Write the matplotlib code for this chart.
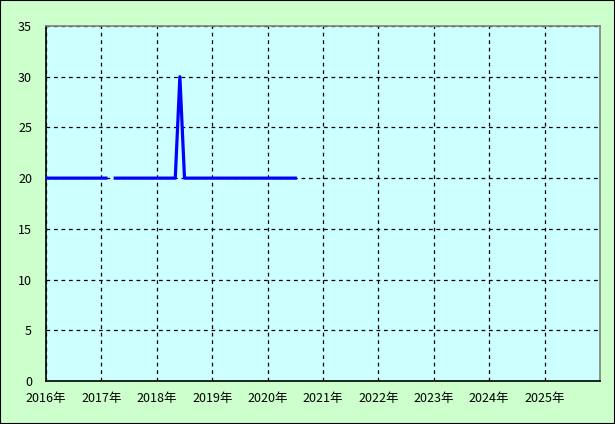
import matplotlib
matplotlib.use("Agg")
import matplotlib.pyplot as plt
import numpy as np

plt.rcParams['font.family'] = ['Noto Sans CJK JP', 'DejaVu Sans']

# Monthly series, Jan 2016 .. Jul 2020 (NaN = missing month)
start_year = 2016
values = [
    20, 20, 20, 20, 20, 20, 20, 20, 20, 20, 20, 20,          # 2016
    20, 20, np.nan, 20, 20, 20, 20, 20, 20, 20, 20, 20,      # 2017
    20, 20, 20, 20, 20, 30, 20, 20, 20, 20, 20, 20,          # 2018
    20, 20, 20, 20, 20, 20, 20, 20, 20, 20, 20, 20,          # 2019
    20, 20, 20, 20, 20, 20, 20,                              # 2020
]
years = [2016, 2017, 2018, 2019, 2020, 2021, 2022, 2023, 2024, 2025]
year_labels = [f"{y}年" for y in years]
y_ticks = [0, 5, 10, 15, 20, 25, 30, 35]

x = start_year + np.arange(len(values)) / 12.0

fig = plt.figure(figsize=(6.15, 4.24), dpi=100, facecolor='#CCFFCC')
fig.patches.append(plt.Rectangle((0, 0), 1, 1, transform=fig.transFigure,
                                 fill=False, edgecolor='black', linewidth=1.5, zorder=10))
ax = fig.add_axes([0.0748, 0.1014, 0.9008, 0.8373])
ax.set_facecolor('#CCFFFF')

ax.plot(x, values, color='#0000FF', linewidth=2.3, zorder=3)

ax.set_xlim(2016, 2026)
ax.set_ylim(0, 35)
ax.set_xticks(years)
ax.set_xticklabels(year_labels)
ax.set_yticks(y_ticks)
ax.tick_params(axis='both', length=0, labelsize=9, colors='black')
ax.tick_params(axis='y', pad=10)
ax.tick_params(axis='x', pad=8)

ax.grid(True, color='black', linestyle=(0, (3, 3)), linewidth=0.9, zorder=1)
ax.set_axisbelow(True)

ax.spines['left'].set_color('black')
ax.spines['bottom'].set_color('black')
ax.spines['top'].set_color('#808080')
ax.spines['right'].set_color('#808080')
for s in ax.spines.values():
    s.set_linewidth(1.2)

fig.savefig('out.png', dpi=100, facecolor=fig.get_facecolor())
